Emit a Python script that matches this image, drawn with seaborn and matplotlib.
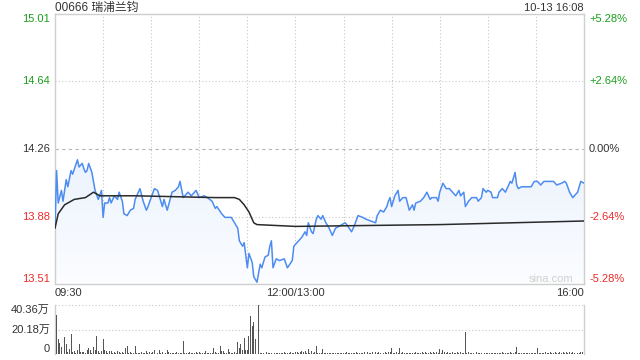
import numpy as np
import matplotlib
matplotlib.use("Agg")
import matplotlib.pyplot as plt
import seaborn as sns
from matplotlib.patches import Polygon

sns.set_theme(style="white")
plt.rcParams["font.family"] = ["Liberation Sans", "Noto Sans CJK SC", "DejaVu Sans"]

title = "00666 瑞浦兰钧"
stamp = "10-13 16:08"
watermark = "sina.com"
prev_close = 14.26
price_ticks = [15.01, 14.64, 14.26, 13.88, 13.51]
pct_labels = ["+5.28%", "+2.64%", "0.00%", "-2.64%", "-5.28%"]
time_labels = ["09:30", "12:00/13:00", "16:00"]
time_pos = [0, 150, 330]
vol_ticks = [40.36, 20.18, 0]
vol_labels = ["40.36万", "20.18万", "0"]

# trading minutes since 09:30 (12:00/13:00 = 150, 16:00 = 330)
price_min = [0, 1, 2, 4, 5, 7, 8, 10, 11, 14, 15, 17, 18, 19, 20, 21, 23, 25, 27, 29,
             30, 31, 33, 34, 35, 37, 39, 40, 42, 43, 45, 47, 49, 50, 53, 55, 57, 58, 60, 62,
             64, 67, 68, 70, 73, 75, 77, 78, 80, 83, 85, 88, 90, 93, 95, 98, 100, 101, 104, 106,
             108, 110, 112, 114, 115, 117, 118, 120, 121, 123, 124, 126, 128, 129, 131, 133, 134, 135, 136, 138,
             140, 143, 145, 148, 149, 151, 154, 156, 157, 158, 160, 161, 163, 164, 166, 167, 169, 171, 173, 175,
             177, 179, 181, 182, 185, 187, 189, 192, 194, 197, 200, 201, 203, 205, 207, 208, 209, 210, 212, 214,
             215, 217, 219, 221, 223, 224, 225, 228, 230, 232, 234, 235, 238, 239, 240, 242, 244, 246, 248, 250,
             252, 253, 255, 256, 258, 260, 263, 264, 266, 267, 269, 270, 272, 273, 276, 277, 279, 281, 282, 284,
             285, 287, 288, 289, 291, 293, 295, 297, 299, 301, 303, 305, 308, 311, 313, 316, 318, 319, 321, 323,
             325, 326, 328, 330]
price = [13.82, 14.14, 13.96, 14.03, 13.97, 14.09, 14.05, 14.14, 14.12, 14.20, 14.16, 14.18, 14.15, 14.13, 14.14, 14.18, 14.13, 14.03, 13.98, 14.03,
         13.88, 13.96, 13.96, 13.99, 13.96, 14.00, 13.98, 14.02, 13.97, 13.90, 13.89, 13.92, 13.93, 13.98, 14.04, 13.97, 13.92, 13.94, 13.99, 14.04,
         14.03, 13.94, 13.98, 13.92, 14.02, 14.03, 14.05, 14.08, 13.99, 14.02, 14.00, 14.03, 13.99, 14.00, 13.99, 13.97, 13.93, 13.94, 13.90, 13.88,
         13.88, 13.88, 13.85, 13.82, 13.75, 13.72, 13.74, 13.60, 13.68, 13.63, 13.55, 13.52, 13.62, 13.60, 13.66, 13.67, 13.72, 13.75, 13.60, 13.65,
         13.64, 13.65, 13.60, 13.64, 13.72, 13.74, 13.77, 13.80, 13.78, 13.85, 13.80, 13.79, 13.87, 13.89, 13.87, 13.89, 13.85, 13.82, 13.78, 13.82,
         13.83, 13.84, 13.85, 13.84, 13.80, 13.84, 13.89, 13.88, 13.87, 13.86, 13.85, 13.89, 13.92, 13.91, 13.94, 13.97, 13.99, 13.94, 14.00, 14.03,
         13.97, 13.99, 13.99, 13.92, 13.95, 13.92, 13.96, 13.97, 13.99, 14.02, 13.98, 13.99, 13.99, 13.97, 14.02, 14.07, 14.04, 14.04, 14.02, 14.00,
         14.03, 14.00, 14.02, 13.94, 13.97, 13.99, 13.99, 13.97, 13.99, 14.04, 14.02, 14.03, 14.02, 13.99, 13.99, 14.02, 14.04, 14.02, 14.04, 14.08,
         14.07, 14.13, 14.06, 14.04, 14.05, 14.05, 14.05, 14.05, 14.08, 14.08, 14.06, 14.08, 14.08, 14.08, 14.06, 14.07, 14.08, 14.07, 14.02, 13.99,
         14.01, 14.02, 14.08, 14.07]

avg_min = [0, 2, 6, 12, 19, 24, 28, 50, 100, 112, 115, 118, 121, 124, 126, 150, 240, 330]
avg_price = [13.82, 13.90, 13.95, 13.98, 13.99, 14.02, 14.00, 14.00, 13.99, 13.99, 13.98, 13.95, 13.91, 13.85, 13.84, 13.83, 13.84, 13.86]

# per-minute volume, 万 shares, minutes 0..330
volume = [19.4, 32.2, 12.3, 9.0, 6.0, 13.9, 13.9, 8.2, 2.0, 4.1,
          16.6, 1.4, 2.2, 1.0, 3.5, 8.5, 1.4, 1.6, 1.4, 1.2,
          3.5, 4.9, 3.5, 1.0, 5.7, 3.5, 15.0, 2.7, 1.2, 2.2,
          12.3, 3.5, 2.2, 1.0, 2.2, 2.7, 0.8, 1.4, 1.0, 2.2,
          1.9, 0.8, 1.4, 1.0, 4.9, 6.8, 0.8, 1.4, 1.0, 0.5,
          6.8, 1.2, 1.0, 0.8, 1.4, 0.8, 1.2, 2.7, 1.0, 1.4,
          0.8, 1.6, 3.0, 3.5, 1.2, 3.2, 1.0, 1.6, 0.8, 1.2,
          3.5, 1.4, 0.8, 1.0, 1.2, 0.8, 1.4, 1.0, 0.8, 1.2,
          10.9, 0.8, 1.0, 0.6, 1.6, 1.2, 0.8, 1.0, 1.4, 0.8,
          1.6, 0.8, 1.2, 1.0, 2.2, 0.8, 1.0, 1.2, 0.8, 4.9,
          1.5, 1.0, 1.2, 6.8, 2.5, 2.5, 1.0, 1.2, 4.4, 1.4,
          1.0, 0.8, 1.4, 1.2, 9.5, 4.9, 8.5, 3.0, 13.1, 3.5,
          3.5, 15.0, 31.4, 23.2, 26.7, 12.0, 34.1, 40.36, 0.8, 1.0,
          0.8, 2.7, 1.4, 0.8, 1.0, 1.2, 3.5, 0.8, 1.0, 0.8,
          1.2, 0.8, 1.0, 1.4, 0.8, 1.2, 1.0, 1.6, 0.8, 1.2,
          1.4, 1.6, 1.0, 1.8, 2.2, 1.4, 2.5, 1.2, 4.1, 1.0,
          2.2, 1.0, 1.4, 6.8, 0.8, 1.2, 1.0, 4.4, 0.8, 1.2,
          1.0, 0.8, 1.2, 0.8, 1.0, 0.8, 1.2, 0.8, 1.0, 1.2,
          0.8, 1.0, 1.4, 0.8, 1.0, 1.2, 0.8, 1.0, 1.6, 1.2,
          1.0, 0.8, 1.2, 1.4, 1.0, 1.6, 1.2, 1.0, 1.4, 1.2,
          1.6, 1.2, 1.8, 1.0, 1.4, 1.2, 1.6, 1.0, 1.8, 1.4,
          4.9, 1.0, 1.2, 1.9, 1.0, 4.9, 1.2, 1.6, 0.8, 1.0,
          1.2, 0.8, 1.0, 1.2, 1.0, 1.4, 1.0, 0.8, 1.2, 1.4,
          1.0, 1.6, 1.2, 1.0, 1.4, 1.2, 2.0, 1.0, 1.4, 1.2,
          4.1, 1.2, 3.5, 1.6, 1.2, 1.4, 1.0, 1.2, 1.4, 1.0,
          1.2, 1.6, 1.0, 1.4, 1.2, 1.0, 18.3, 1.0, 1.4, 0.8,
          1.0, 1.2, 0.8, 1.4, 1.0, 0.8, 1.2, 1.0, 0.8, 1.0,
          0.8, 1.2, 1.0, 0.8, 1.2, 1.0, 0.8, 1.0, 1.2, 1.6,
          1.0, 1.2, 0.8, 1.0, 1.4, 1.2, 1.0, 2.0, 5.7, 1.0,
          1.2, 0.8, 1.0, 1.2, 1.0, 0.8, 1.2, 1.0, 0.8, 1.0,
          1.2, 4.9, 1.0, 0.8, 1.2, 1.0, 1.4, 1.2, 1.0, 1.4,
          1.2, 1.0, 1.6, 1.2, 1.0, 1.4, 1.2, 1.6, 1.0, 1.4,
          1.2, 1.6, 1.0, 1.4, 1.2, 1.6, 1.0, 1.2, 1.4, 1.8, 1.2]
vol_min = list(range(len(volume)))

GREEN = "#1a9e1a"
RED = "#ee2a2a"
DARK = "#333333"
GRID = "#c8c8c8"
BORDER = "#cfcfcf"

W, H = 640, 360
fig = plt.figure(figsize=(6.4, 3.6), dpi=100)
L, R = 55, 584
ax = fig.add_axes([L / W, 1 - 284 / H, (R - L) / W, 270 / H])
axv = fig.add_axes([L / W, 1 - 354 / H, (R - L) / W, 49 / H])

ylo, yhi = price_ticks[-1], price_ticks[0]
ax.set_xlim(0, 330)
ax.set_ylim(ylo, yhi)

# gradient fill under price line
verts = [(price_min[0], ylo)] + list(zip(price_min, price)) + [(price_min[-1], ylo)]
poly = Polygon(verts, closed=True, facecolor="none", edgecolor="none")
ax.add_patch(poly)
t = np.linspace(1, 0, 256)[:, None, None]
top_c = np.array([0.86, 0.91, 0.985])
bot_c = np.array([0.985, 0.99, 1.0])
img = bot_c + (top_c - bot_c) * t
im = ax.imshow(img, extent=[0, 330, ylo, yhi], origin="upper", aspect="auto", zorder=1)
im.set_clip_path(poly)

# grid
for yv in [price_ticks[1], price_ticks[3]]:
    ax.axhline(yv, color=GRID, lw=0.8, ls=(0, (1, 2)), zorder=0.5)
ax.axhline(prev_close, color="#b5b5b5", lw=0.8, ls=(0, (3, 3)), zorder=0.5)
for m in range(30, 330, 30):
    ax.axvline(m, color=GRID, lw=0.8, ls=(0, (1, 2)), zorder=0.5)

sns.lineplot(x=price_min, y=price, ax=ax, color="#4d8cf0", linewidth=1.1, zorder=3)
sns.lineplot(x=avg_min, y=avg_price, ax=ax, color="#2a2a2a", linewidth=1.1, zorder=4)

ax.set_xticks([])
ax.set_yticks([])
ax.set_xlabel("")
ax.set_ylabel("")
for s in ax.spines.values():
    s.set_color(BORDER)
    s.set_linewidth(1.0)

ytr = ax.get_yaxis_transform()
colors = [GREEN, GREEN, DARK, RED, RED]
vas = ["top", "center", "center", "center", "bottom"]
for i, (pv, pl) in enumerate(zip(price_ticks, pct_labels)):
    ax.text(-5 / (R - L), pv, f"{pv:.2f}", transform=ytr, ha="right", va=vas[i],
            color=colors[i], fontsize=8)
    ax.text(1 + 5 / (R - L), pv, pl, transform=ytr, ha="left", va=vas[i],
            color=colors[i], fontsize=8)

xtr = ax.get_xaxis_transform()
for lab, pos, ha in zip(time_labels, time_pos, ["left", "center", "right"]):
    ax.text(pos, -9 / 270, lab, transform=xtr, ha=ha, va="center", color=DARK, fontsize=8)

ax.text((551 - L) / (R - L), 5 / 270, watermark, transform=ax.transAxes, ha="center",
        va="center", color="#d0d0d0", fontsize=8)

fig.text(L / W, 1 - 8 / H, title, ha="left", va="center", color=DARK, fontsize=8.5)
fig.text(R / W, 1 - 8 / H, stamp, ha="right", va="center", color=DARK, fontsize=8)

# volume panel
axv.bar(vol_min, volume, width=0.6, color="#555555", linewidth=0, zorder=3)
axv.set_xlim(0, 330)
axv.set_ylim(0, vol_ticks[0])
for yv in vol_ticks[:2]:
    axv.axhline(yv, color=GRID, lw=0.8, ls=(0, (1, 2)), zorder=0.5, clip_on=False)
axv.set_xticks([])
axv.set_yticks([])
for k, s in axv.spines.items():
    if k in ("top", "bottom"):
        s.set_visible(False)
    else:
        s.set_color(BORDER)
        s.set_linewidth(1.0)
vtr = axv.get_yaxis_transform()
for yv, lab, va in zip(vol_ticks, vol_labels, ["top", "center", "bottom"]):
    axv.text(-5 / (R - L), yv, lab, transform=vtr, ha="right", va=va, color=DARK, fontsize=8)

fig.savefig("out.png", dpi=100)
